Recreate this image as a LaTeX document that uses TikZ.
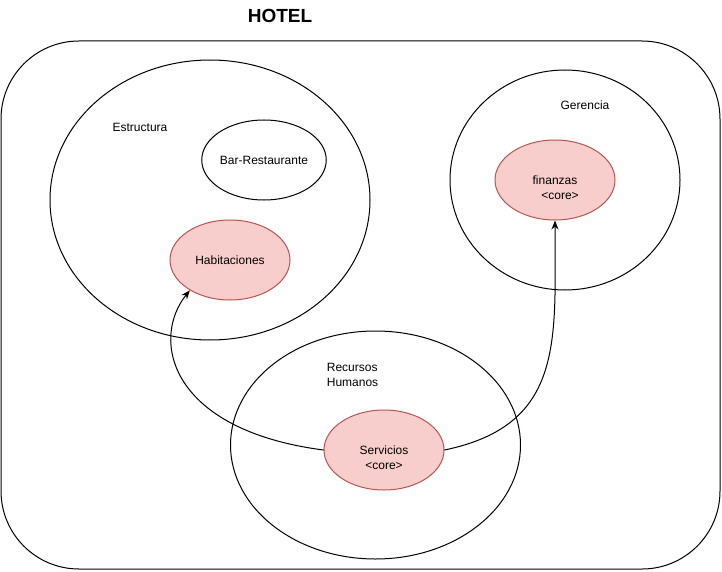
\documentclass[tikz,border=0pt]{standalone}
\usepackage{fontspec}
\setmainfont{Liberation Sans}
\usetikzlibrary{shapes.geometric,arrows.meta}
\definecolor{corefill}{HTML}{F8CECC}
\definecolor{coreline}{HTML}{B85450}
\tikzset{
	area/.style={draw, fill=white, ellipse, inner sep=0pt},
	core/.style={draw=coreline, fill=corefill, ellipse, inner sep=0pt, minimum width=120pt, minimum height=80pt, align=center},
	plain/.style={draw, fill=white, ellipse, inner sep=0pt, minimum width=120pt, minimum height=80pt, align=center},
	corelbl/.style={align=center, inner sep=0pt},
}
\begin{document}
\begin{tikzpicture}[x=1pt, y=-1pt, font=\fontsize{12}{15}\selectfont, line width=1pt, line join=round, line cap=round, >={Stealth[length=9pt,width=7pt]}]
			\useasboundingbox (0,0) rectangle (722,572);
			\draw[rounded corners=78pt] (1,41) rectangle (720,569);
			\node[font=\fontsize{19}{22}\selectfont\bfseries] (titulo) at (280,16) {HOTEL};
			% areas
			\node[area, minimum width=320pt, minimum height=280pt] (estr) at (210,200) {};
			\node[area, minimum width=230pt, minimum height=220pt] (ger) at (565,180) {};
			\node[area, minimum width=290pt, minimum height=228pt] (rrhh) at (375.5,445) {};
			\node (estrlbl) at (140,127) {Estructura};
			\node (gerlbl) at (585,105) {Gerencia};
			\node[anchor=west, align=left] (rrhhlbl) at (323,375) {Recursos\\Humanos};
			% componentes
			\node[plain] (bar) at (264,160) {Bar-Restaurante};
			\node[core] (hab) at (230,260) {Habitaciones};
			\node[core] (fin) at (555,180) {};
			\node[corelbl] (finlbl) at (555,187.5) {finanzas\\\hspace*{10pt}<core>};
			\node[core] (serv) at (384,450) {};
			\node[corelbl] (servlbl) at (384,457.5) {Servicios\\<core>};
			% dependencias
			\draw[->] (serv.west) .. controls (170,430) and (150,340) .. (hab.217);
			\draw[->] (serv.east) .. controls (565,425) and (555,340) .. (fin.south);
		\end{tikzpicture}
\end{document}
